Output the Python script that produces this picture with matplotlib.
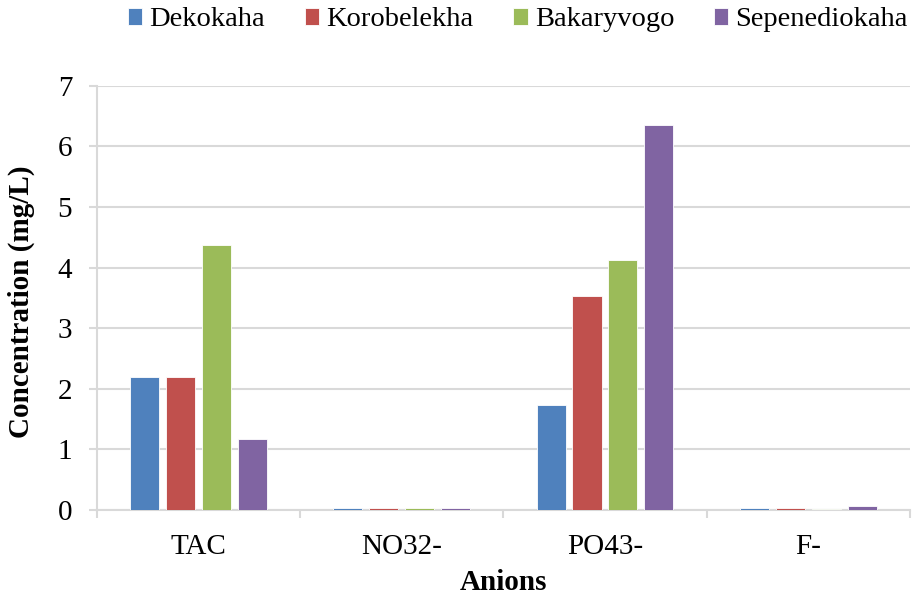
import numpy as np
import matplotlib.pyplot as plt

anions = ['TAC', 'NO32-', 'PO43-', 'F-']
sites = ['Dekokaha', 'Korobelekha', 'Bakaryvogo', 'Sepenediokaha']
dekokaha = [2.20, 0.03, 1.73, 0.03]
korobelekha = [2.20, 0.03, 3.53, 0.04]
bakaryvogo = [4.38, 0.03, 4.13, 0.02]
sepenediokaha = [1.17, 0.03, 6.36, 0.06]
colors = ['#4f81bd', '#c0504d', '#9bbb59', '#8064a2']

plt.rcParams['font.family'] = ['Liberation Serif', 'DejaVu Serif']

fig = plt.figure(figsize=(9.17, 6), dpi=100)
ax = fig.add_axes([0.106, 0.15, 0.886, 0.707])

x = np.arange(len(anions))
w = 0.143
step = 0.177
series = [dekokaha, korobelekha, bakaryvogo, sepenediokaha]
for i, vals in enumerate(series):
    ax.bar(x + (i - 1.5) * step, vals, w, color=colors[i], label=sites[i],
           edgecolor='white', linewidth=0.6, zorder=3)

ax.set_xlim(-0.5, len(anions) - 0.5)
ax.set_ylim(0, 7)
ax.set_yticks(range(0, 8))
ax.set_xticks(x)
ax.set_xticklabels(anions)
ax.set_xticks(np.arange(-0.5, len(anions)), minor=True)
ax.tick_params(axis='x', which='major', length=0, pad=17, labelsize=21)
ax.tick_params(axis='x', which='minor', length=6, color='#d9d9d9', width=1.5)
ax.tick_params(axis='y', length=6, color='#d9d9d9', width=1.5, labelsize=21, pad=12)
ax.grid(axis='y', color='#d9d9d9', linewidth=1.5, zorder=0)
for s in ['top', 'right']:
    ax.spines[s].set_visible(False)
for s in ['left', 'bottom']:
    ax.spines[s].set_color('#d9d9d9')
    ax.spines[s].set_linewidth(1.5)

ax.set_xlabel('Anions', fontsize=21, fontweight='bold', labelpad=7)
ax.set_ylabel('Concentration (mg/L)', fontsize=21, fontweight='bold')
ax.yaxis.set_label_coords(-0.076, 0.49)

ax.legend(loc='upper center', bbox_to_anchor=(0.518, 1.245), ncol=4, frameon=False,
          fontsize=20.5, handlelength=0.5, handleheight=0.5, handletextpad=0.25,
          columnspacing=1.4)

fig.savefig('out.png', dpi=100)
